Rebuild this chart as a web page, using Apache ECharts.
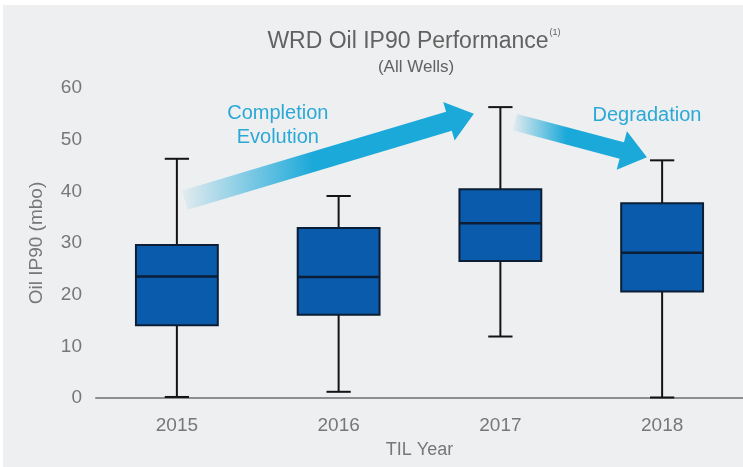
<!DOCTYPE html>
<html>
<head>
<meta charset="utf-8">
<script src="https://cdn.jsdelivr.net/npm/echarts@6/dist/echarts.min.js"></script>
<style>
  html, body { margin: 0; padding: 0; background: #fff; }
  #chart { position: absolute; left: 3px; top: 5px; width: 740px; height: 462px; background: #eeeff0; }
</style>
</head>
<body>
<div id="chart"></div>
<script>
// data
const years = ['2015', '2016', '2017', '2018'];
const minVals = [0.2, 1.2, 11.9, 0.1];
const q1Vals = [14.1, 16.1, 26.5, 20.6];
const medianVals = [23.5, 23.4, 33.8, 28.1];
const q3Vals = [29.6, 32.9, 40.4, 37.7];
const maxVals = [46.3, 39.1, 56.3, 46.0];

// annotation arrows, in [category index, value] space
const arrowEvolution = { tail: [0.05, 38.3], tip: [1.836, 55.0], shaft: 20 };
const arrowDegradation = { tail: [2.09, 53.4], tip: [2.906, 46.6], shaft: 17 };
const noteEvolution = { at: [0.624, 52.8], text: 'Completion\nEvolution' };
const noteDegradation = { at: [2.906, 54.6], text: 'Degradation' };

const FONT = 'Liberation Sans, Arial, Helvetica, sans-serif';
const BOX_BLUE = '#0b5bad';
const ARROW_RGB = '27,169,217';
const LABEL_GREY = '#777777';

const boxData = years.map((y, i) => [i, minVals[i], q1Vals[i], medianVals[i], q3Vals[i], maxVals[i]]);

function renderBox(params, api) {
  const i = api.value(0);
  const band = api.size([1, 0])[0];
  const half = band * 0.253;
  const cap = band * 0.075;
  const pMin = api.coord([i, api.value(1)]);
  const pQ1 = api.coord([i, api.value(2)]);
  const pMed = api.coord([i, api.value(3)]);
  const pQ3 = api.coord([i, api.value(4)]);
  const pMax = api.coord([i, api.value(5)]);
  const x = pMed[0];
  const line = { stroke: '#141414', lineWidth: 2 };
  return {
    type: 'group',
    children: [
      { type: 'line', shape: { x1: x, y1: pMax[1], x2: x, y2: pQ3[1] }, style: line },
      { type: 'line', shape: { x1: x, y1: pQ1[1], x2: x, y2: pMin[1] }, style: line },
      { type: 'line', shape: { x1: x - cap, y1: pMax[1], x2: x + cap, y2: pMax[1] }, style: line },
      { type: 'line', shape: { x1: x - cap, y1: pMin[1], x2: x + cap, y2: pMin[1] }, style: line },
      { type: 'rect', shape: { x: x - half, y: pQ3[1], width: half * 2, height: pQ1[1] - pQ3[1] },
        style: { fill: BOX_BLUE, stroke: '#0b1e36', lineWidth: 2 } },
      { type: 'line', shape: { x1: x - half, y1: pMed[1], x2: x + half, y2: pMed[1] },
        style: { stroke: '#0b1e36', lineWidth: 2.5 } }
    ]
  };
}

const chart = echarts.init(document.getElementById('chart'));

chart.setOption({
  backgroundColor: '#eeeff0',
  animation: false,
  grid: { left: 93, right: 0, top: 83, bottom: 69 },
  xAxis: {
    type: 'category',
    data: years,
    name: 'TIL Year',
    nameLocation: 'middle',
    nameGap: 43,
    nameTextStyle: { color: LABEL_GREY, fontSize: 18, fontFamily: FONT },
    axisLine: { lineStyle: { color: '#8e8e8e', width: 2 } },
    axisTick: { show: false },
    axisLabel: { color: LABEL_GREY, fontSize: 19, fontFamily: FONT, margin: 18 }
  },
  yAxis: {
    type: 'value',
    min: 0,
    max: 60,
    interval: 10,
    name: 'Oil IP90 (mbo)',
    nameLocation: 'middle',
    nameGap: 50,
    nameTextStyle: { color: LABEL_GREY, fontSize: 19, fontFamily: FONT },
    axisLine: { show: false },
    axisTick: { show: false },
    splitLine: { show: false },
    axisLabel: { color: LABEL_GREY, fontSize: 19, fontFamily: FONT, margin: 14 }
  },
  series: [{
    type: 'custom',
    renderItem: renderBox,
    encode: { x: 0, y: [1, 2, 3, 4, 5] },
    data: boxData
  }]
});

function toPx(pt) {
  const a = chart.convertToPixel({ gridIndex: 0 }, [0, pt[1]]);
  const b = chart.convertToPixel({ gridIndex: 0 }, [1, pt[1]]);
  return [a[0] + (b[0] - a[0]) * pt[0], a[1]];
}

function arrowShape(arrow) {
  const t = toPx(arrow.tail);
  const p = toPx(arrow.tip);
  const len = Math.hypot(p[0] - t[0], p[1] - t[1]);
  const d = [(p[0] - t[0]) / len, (p[1] - t[1]) / len];
  const n = [-d[1], d[0]];
  const hl = 26, hw = 40, w = arrow.shaft / 2;
  const b = [p[0] - d[0] * hl, p[1] - d[1] * hl];
  const off = (q, k) => [q[0] + n[0] * k, q[1] + n[1] * k];
  return [off(t, w), off(b, w), off(b, hw / 2), p, off(b, -hw / 2), off(b, -w), off(t, -w)];
}

function arrowGraphic(arrow, fadeEnd) {
  return {
    type: 'polygon',
    shape: { points: arrowShape(arrow) },
    style: {
      fill: new echarts.graphic.LinearGradient(0, 0, 1, 0, [
        { offset: 0, color: 'rgba(' + ARROW_RGB + ',0.05)' },
        { offset: fadeEnd, color: 'rgba(' + ARROW_RGB + ',1)' },
        { offset: 1, color: 'rgba(' + ARROW_RGB + ',1)' }
      ])
    },
    z: 0
  };
}

function noteGraphic(note) {
  const p = toPx(note.at);
  return {
    type: 'text',
    x: p[0], y: p[1],
    style: {
      text: note.text, fill: '#2aa9d6', font: '20px ' + FONT,
      align: 'center', verticalAlign: 'middle', lineHeight: 24
    }
  };
}

chart.setOption({
  graphic: [
    arrowGraphic(arrowEvolution, 0.45),
    arrowGraphic(arrowDegradation, 0.4),
    noteGraphic(noteEvolution),
    noteGraphic(noteDegradation),
    {
      type: 'text', x: 411, y: 37,
      style: {
        text: '{m|WRD Oil IP90 Performance}{s|(1)}',
        align: 'center', verticalAlign: 'middle',
        rich: {
          m: { fontSize: 23, fontFamily: FONT, fill: '#626262', lineHeight: 28 },
          s: { fontSize: 9, fontFamily: FONT, fill: '#626262', verticalAlign: 'top', lineHeight: 28, padding: [0, 0, 10, 1] }
        }
      }
    },
    {
      type: 'text', x: 413, y: 62,
      style: { text: '(All Wells)', fill: '#626262', font: '17px ' + FONT, align: 'center', verticalAlign: 'middle' }
    }
  ]
});
</script>
</body>
</html>
